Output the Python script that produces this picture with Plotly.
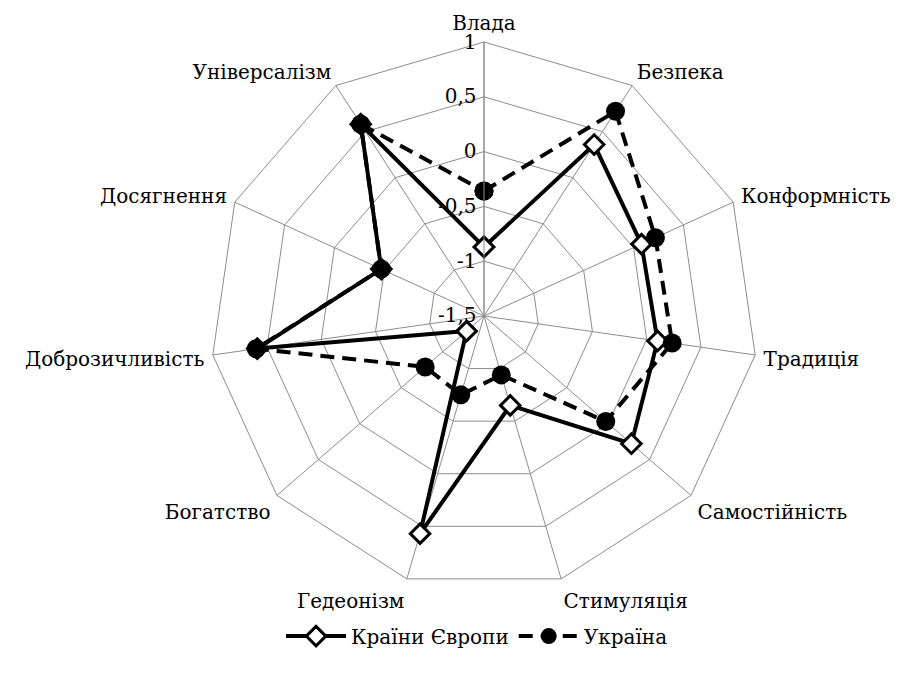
import plotly.graph_objects as go

categories = ['Влада', 'Безпека', 'Конформність', 'Традиція', 'Самостійність',
              'Стимуляція', 'Гедеонізм', 'Богатство', 'Доброзичливість',
              'Досягнення', 'Універсалізм']
europe = [-0.87, 0.36, 0.08, 0.10, 0.28, -0.65, 0.57, -1.29, 0.59, -0.47, 0.58]
ukraine = [-0.36, 0.72, 0.22, 0.235, -0.03, -0.94, -0.75, -0.79, 0.60, -0.47, 0.58]
tick_vals = [-1.5, -1, -0.5, 0, 0.5, 1]
tick_text = ['-1,5', '-1', '-0,5', '0', '0,5', '1']

# plotly hides markers when a polygon radial range starts below zero,
# so the axis runs from 0 and the tick labels carry the real values
base = tick_vals[0]


def shift(vals):
    return [v - base for v in vals]


font = 'DejaVu Serif'
grid = '#8c8c8c'

fig = go.Figure()
fig.add_trace(go.Scatterpolar(
    r=shift(europe + europe[:1]), theta=categories + categories[:1],
    name='Країни Європи', mode='lines+markers',
    line=dict(color='black', width=4),
    marker=dict(symbol='diamond', size=15, color='white',
                line=dict(color='black', width=3))
))
fig.add_trace(go.Scatterpolar(
    r=shift(ukraine + ukraine[:1]), theta=categories + categories[:1],
    name='Україна', mode='lines+markers',
    line=dict(color='black', width=4, dash='14px,8px'),
    marker=dict(symbol='circle', size=19, color='black')
))

fig.update_layout(
    width=902, height=679,
    margin=dict(l=0, r=0, t=0, b=0),
    paper_bgcolor='white',
    font=dict(family=font, size=20, color='black'),
    polar=dict(
        domain=dict(x=[0.2239, 0.8315], y=[0.1429, 0.9499]),
        bgcolor='white',
        gridshape='linear',
        radialaxis=dict(range=[0, tick_vals[-1] - base], tickvals=shift(tick_vals),
                        ticktext=tick_text,
                        angle=90, tickangle=90, showline=True, linecolor=grid,
                        gridcolor=grid, ticks='', side='counterclockwise',
                        tickfont=dict(family=font, size=20)),
        angularaxis=dict(direction='clockwise', rotation=90, linecolor=grid,
                         gridcolor=grid, ticks='outside', ticklen=4,
                         tickcolor='rgba(0,0,0,0)',
                         tickfont=dict(family=font, size=20))
    ),
    showlegend=True,
    legend=dict(orientation='h', x=0.52, xanchor='center', y=0.075, yanchor='middle',
                font=dict(family=font, size=20), itemwidth=60)
)

fig.write_html('out.html')
